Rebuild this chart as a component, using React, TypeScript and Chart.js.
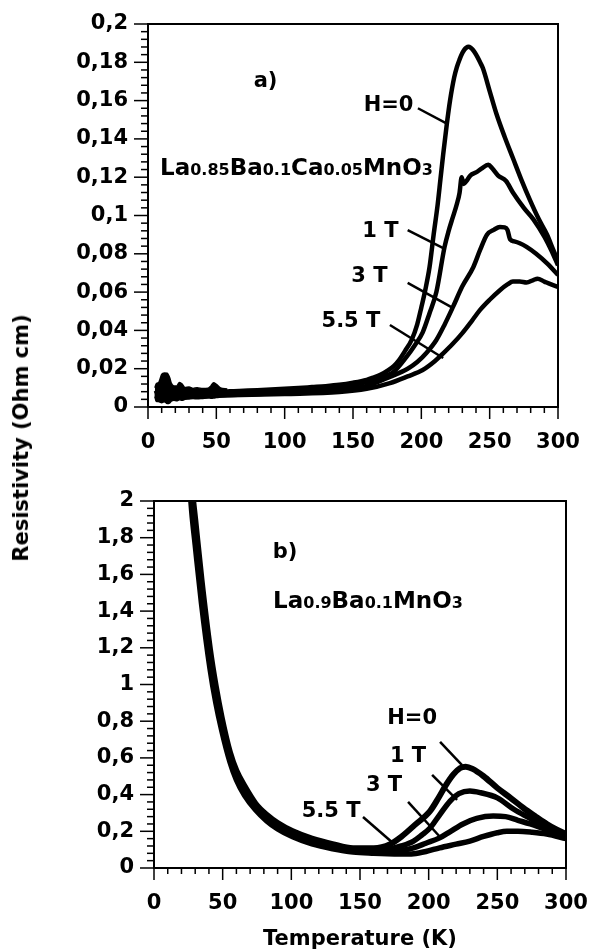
import React, { useEffect, useRef } from 'react';
import { Chart, registerables } from 'chart.js';

Chart.register(...registerables);

const FONT = '"DejaVu Sans", "Liberation Sans", Arial, sans-serif';

// ---------- Panel a) La0.85Ba0.1Ca0.05MnO3 ----------
const aH0T = [5, 10, 15, 20, 30, 40, 50, 60, 70, 80, 90, 100, 110, 120, 130, 140, 150, 160, 165, 170, 175, 180, 184, 188, 193, 197, 200, 203, 206, 209, 212, 214, 216, 218.7, 221, 224, 226, 228, 230, 231.5, 233, 234.5, 236, 237.5, 239, 241, 243, 245, 250, 255, 261, 267, 273, 279.5, 286, 292, 296, 300];
const aH0V = [0.007, 0.009, 0.008, 0.0075, 0.0072, 0.0072, 0.0076, 0.0082, 0.0085, 0.0088, 0.0091, 0.0095, 0.0099, 0.0104, 0.0109, 0.0116, 0.0127, 0.0142, 0.0154, 0.0168, 0.0188, 0.0215, 0.0248, 0.0292, 0.0352, 0.0432, 0.0520, 0.0615, 0.0730, 0.0900, 0.1060, 0.1190, 0.1320, 0.1480, 0.1600, 0.1720, 0.1775, 0.1815, 0.1848, 0.1866, 0.1877, 0.1881, 0.1877, 0.1867, 0.1852, 0.1828, 0.1800, 0.1770, 0.1650, 0.1530, 0.1410, 0.1300, 0.1190, 0.1080, 0.0980, 0.0900, 0.0830, 0.0760];

const a1T = [5, 20, 35, 50, 60, 80, 100, 120, 140, 150, 160, 170, 180, 189, 195, 201, 206, 211, 217, 220, 223, 226, 228, 229.5, 231, 233, 236, 240, 244, 249, 252, 256, 262, 267, 275, 282, 290, 295, 300];
const a1V = [0.0068, 0.007, 0.0068, 0.0068, 0.0072, 0.0078, 0.0083, 0.0092, 0.0105, 0.0115, 0.0130, 0.0150, 0.0185, 0.0260, 0.0320, 0.0390, 0.0490, 0.0600, 0.0836, 0.0920, 0.0990, 0.1060, 0.1120, 0.1200, 0.1165, 0.1180, 0.1210, 0.1225, 0.1245, 0.1265, 0.1245, 0.1210, 0.1180, 0.1120, 0.1040, 0.0980, 0.0890, 0.0820, 0.0740];

const a3T = [5, 20, 35, 50, 100, 140, 160, 177, 190, 197, 204, 211, 217, 223, 230, 238, 243, 248, 253, 257.5, 261, 263, 265, 268, 272, 277, 284, 292, 300];
const a3V = [0.0065, 0.0066, 0.0063, 0.0062, 0.0075, 0.0090, 0.0110, 0.0157, 0.0200, 0.0235, 0.0285, 0.0350, 0.0430, 0.0520, 0.0630, 0.0730, 0.0820, 0.0900, 0.0925, 0.0940, 0.0938, 0.0925, 0.0875, 0.0865, 0.0855, 0.0836, 0.0800, 0.0750, 0.0690];

const a55T = [5, 20, 35, 50, 100, 140, 160, 177, 190, 201, 210, 216, 223, 230, 237, 243, 250, 257.5, 263, 267, 272, 277, 282, 285, 290, 295, 300];
const a55V = [0.006, 0.006, 0.0058, 0.006, 0.0068, 0.0078, 0.0095, 0.0125, 0.0160, 0.0193, 0.0240, 0.0280, 0.0330, 0.0386, 0.0450, 0.0507, 0.0560, 0.0610, 0.0640, 0.0655, 0.0655, 0.0650, 0.0663, 0.0670, 0.0655, 0.0640, 0.0627];

// noisy low-temperature band (upper / lower edge of the scatter)
const aNoiseT = [5, 6, 8, 10, 12, 14, 16, 17, 19, 21, 23, 25, 27, 30, 33, 36, 40, 44, 46, 48, 50, 53, 58];
const aNoiseHi = [0.010, 0.012, 0.013, 0.017, 0.0178, 0.0176, 0.015, 0.0125, 0.011, 0.011, 0.0128, 0.012, 0.0102, 0.0105, 0.0097, 0.0101, 0.0096, 0.0098, 0.011, 0.0127, 0.0118, 0.0100, 0.0094];
const aNoiseLo = [0.0055, 0.003, 0.0028, 0.0022, 0.0028, 0.0018, 0.0022, 0.003, 0.0035, 0.0032, 0.0038, 0.0035, 0.004, 0.0042, 0.0044, 0.0043, 0.0045, 0.0047, 0.0046, 0.0047, 0.0049, 0.0052, 0.0056];

// ---------- Panel b) La0.9Ba0.1MnO3 ----------
const bH0T = [24, 27.5, 30, 34.6, 40.8, 45, 49.3, 55.3, 60, 66, 74, 82, 90, 101, 115, 130, 145, 160, 172, 180, 190, 201, 207, 213, 218, 223, 227, 232, 240, 250, 260, 269, 278, 286, 293, 300];
const bH0V = [2.45, 2.08, 1.90, 1.57, 1.19, 0.99, 0.82, 0.63, 0.53, 0.445, 0.35, 0.29, 0.245, 0.20, 0.16, 0.13, 0.108, 0.108, 0.13, 0.17, 0.235, 0.31, 0.38, 0.457, 0.51, 0.545, 0.552, 0.54, 0.50, 0.436, 0.38, 0.327, 0.28, 0.24, 0.21, 0.185];

const b1T = [24, 27.5, 30, 34.6, 40.8, 45, 49.3, 55.3, 60, 66, 74, 82, 90, 101, 115, 130, 145, 160, 170, 180, 189, 195, 201, 208, 215.6, 222, 230, 238, 250, 262, 274, 287, 300];
const b1V = [2.40, 2.04, 1.86, 1.53, 1.16, 0.965, 0.80, 0.615, 0.515, 0.43, 0.34, 0.28, 0.235, 0.19, 0.15, 0.122, 0.10, 0.095, 0.10, 0.12, 0.147, 0.18, 0.218, 0.29, 0.365, 0.405, 0.42, 0.41, 0.382, 0.32, 0.27, 0.215, 0.18];

const b3T = [24, 27.5, 30, 34.6, 40.8, 45, 49.3, 55.3, 60, 66, 74, 82, 90, 101, 115, 130, 145, 160, 170, 180, 189, 198, 208, 216, 225, 235, 247, 256, 265, 274, 287, 300];
const b3V = [2.36, 2.0, 1.82, 1.49, 1.13, 0.94, 0.78, 0.60, 0.50, 0.415, 0.33, 0.27, 0.225, 0.18, 0.14, 0.113, 0.094, 0.088, 0.088, 0.095, 0.11, 0.135, 0.164, 0.20, 0.24, 0.27, 0.283, 0.28, 0.26, 0.24, 0.205, 0.175];

const b55T = [24, 27.5, 30, 34.6, 40.8, 45, 49.3, 55.3, 60, 66, 74, 82, 90, 101, 115, 130, 145, 160, 170, 180, 189, 198, 208, 220, 230, 240, 250, 257, 265, 275, 286, 300];
const b55V = [2.30, 1.94, 1.76, 1.44, 1.085, 0.90, 0.75, 0.578, 0.48, 0.395, 0.316, 0.257, 0.213, 0.17, 0.131, 0.105, 0.087, 0.08, 0.077, 0.076, 0.078, 0.09, 0.11, 0.13, 0.147, 0.172, 0.192, 0.20, 0.20, 0.195, 0.185, 0.16];

// ---------- Annotations ----------
const fieldLabels = ['H=0', '1 T', '3 T', '5.5 T'];
const aLabelT = [176, 170, 162, 148.5];
const aLabelV = [0.1574, 0.0914, 0.0679, 0.0444];
const aLeadFromT = [197.5, 190, 190, 177];
const aLeadFromV = [0.156, 0.0924, 0.0648, 0.0428];
const aLeadToT = [218.7, 216, 222, 216];
const aLeadToV = [0.148, 0.083, 0.0522, 0.0256];

const bLabelT = [188, 185, 167.5, 129];
const bLabelV = [0.817, 0.605, 0.452, 0.305];
const bLeadFromT = [208.3, 202.5, 185, 152.2];
const bLeadFromV = [0.687, 0.507, 0.36, 0.278];
const bLeadToT = [224.3, 220.7, 208.3, 174];
const bLeadToV = [0.561, 0.371, 0.169, 0.136];

// formula pieces: [text, isSubscript]
const formulaA: [string, boolean][] = [['La', false], ['0.85', true], ['Ba', false], ['0.1', true], ['Ca', false], ['0.05', true], ['MnO', false], ['3', true]];
const formulaB: [string, boolean][] = [['La', false], ['0.9', true], ['Ba', false], ['0.1', true], ['MnO', false], ['3', true]];

const fmt = (v: number) => String(Math.round(v * 1000) / 1000).replace('.', ',');
const pts = (T: number[], V: number[]) => T.map((t, i) => ({ x: t, y: V[i] }));

const decor = {
  id: 'decor',
  afterDatasetsDraw(chart: any, _args: any, o: any) {
    const { ctx, chartArea: a, scales } = chart;
    const x = scales.x;
    const y = scales.y;
    ctx.save();
    ctx.strokeStyle = '#000';
    ctx.fillStyle = '#000';
    ctx.lineCap = 'butt';
    // frame
    ctx.lineWidth = 2;
    ctx.strokeRect(a.left, a.top, a.right - a.left, a.bottom - a.top);
    // x ticks
    ctx.lineWidth = 1.5;
    const nx = Math.round((x.max - x.min) / o.xMinor);
    for (let i = 0; i <= nx; i++) {
      const px = x.getPixelForValue(x.min + i * o.xMinor);
      const major = i % o.xEvery === 0;
      ctx.beginPath();
      ctx.moveTo(px, a.bottom);
      ctx.lineTo(px, a.bottom + (major ? 12 : 6));
      ctx.stroke();
    }
    const ny = Math.round((y.max - y.min) / o.yMinor);
    for (let i = 0; i <= ny; i++) {
      const py = y.getPixelForValue(y.min + i * o.yMinor);
      const major = i % o.yEvery === 0;
      ctx.beginPath();
      ctx.moveTo(a.left, py);
      ctx.lineTo(a.left - (major ? 14 : 7), py);
      ctx.stroke();
    }
    // panel letter
    ctx.font = `bold 21px ${FONT}`;
    ctx.textAlign = 'center';
    ctx.textBaseline = 'middle';
    ctx.fillText(o.letter, x.getPixelForValue(o.letterT), y.getPixelForValue(o.letterV));
    // formula
    let fx = x.getPixelForValue(o.formulaT);
    const fy = y.getPixelForValue(o.formulaV);
    ctx.textAlign = 'left';
    ctx.textBaseline = 'alphabetic';
    for (const [t, sub] of o.formula as [string, boolean][]) {
      ctx.font = sub ? `bold 16px ${FONT}` : `bold 23px ${FONT}`;
      ctx.fillText(t, fx, fy);
      fx += ctx.measureText(t).width;
    }
    // field labels + leaders
    ctx.font = `bold 21px ${FONT}`;
    ctx.textAlign = 'center';
    ctx.textBaseline = 'middle';
    ctx.lineWidth = 2.5;
    o.labels.forEach((t: string, i: number) => {
      ctx.fillText(t, x.getPixelForValue(o.labelT[i]), y.getPixelForValue(o.labelV[i]));
      ctx.beginPath();
      ctx.moveTo(x.getPixelForValue(o.fromT[i]), y.getPixelForValue(o.fromV[i]));
      ctx.lineTo(x.getPixelForValue(o.toT[i]), y.getPixelForValue(o.toV[i]));
      ctx.stroke();
    });
    ctx.restore();
  },
};

function buildConfig(p: any) {
  const tickFont = { family: FONT, size: 21, weight: 'bold' as const };
  const datasets = p.series.map((s: any) => ({
    data: pts(s.T, s.V),
    borderColor: '#000',
    backgroundColor: '#000',
    borderWidth: s.w,
    pointRadius: 0,
    fill: s.fillNext ? '+1' : false,
    tension: 0.4,
    cubicInterpolationMode: 'monotone',
    borderJoinStyle: 'round',
    clip: 0,
  }));
  return {
    type: 'line' as const,
    data: { datasets },
    options: {
      animation: false,
      responsive: false,
      devicePixelRatio: 1,
      events: [],
      layout: { padding: p.padding },
      plugins: {
        legend: { display: false },
        tooltip: { enabled: false },
        title: { display: false },
        filler: { propagate: false },
        decor: p.decor,
      },
      scales: {
        x: {
          type: 'linear',
          min: 0,
          max: 300,
          ticks: { stepSize: 50, font: tickFont, color: '#000', padding: 23, maxRotation: 0, autoSkip: false },
          grid: { display: false, drawTicks: false },
          border: { display: false },
          title: p.xTitle
            ? { display: true, text: p.xTitle, font: { family: FONT, size: 21, weight: 'bold' }, color: '#000', padding: { top: 0, bottom: 0 } }
            : { display: false },
          afterFit: (s: any) => {
            s.height = p.xHeight;
            s.paddingLeft = 0;
            s.paddingRight = 0;
          },
        },
        y: {
          type: 'linear',
          min: 0,
          max: p.yMax,
          ticks: { stepSize: p.yStep, font: tickFont, color: '#000', padding: 20, autoSkip: false, callback: (v: any) => fmt(Number(v)) },
          grid: { display: false, drawTicks: false },
          border: { display: false },
          afterFit: (s: any) => {
            s.width = p.yWidth;
            s.paddingTop = 0;
            s.paddingBottom = 0;
          },
        },
      },
    },
    plugins: [decor],
  };
}

const panelA = {
  series: [
    { T: aH0T, V: aH0V, w: 4.5 },
    { T: a1T, V: a1V, w: 4.5 },
    { T: a3T, V: a3V, w: 4.5 },
    { T: a55T, V: a55V, w: 4.5 },
    { T: aNoiseT, V: aNoiseHi, w: 1.5, fillNext: true },
    { T: aNoiseT, V: aNoiseLo, w: 1.5 },
  ],
  padding: { left: 0, top: 24, right: 31, bottom: 0 },
  yMax: 0.2,
  yStep: 0.02,
  yWidth: 148,
  xHeight: 63,
  xTitle: null,
  decor: {
    xMinor: 10, xEvery: 5, yMinor: 0.004, yEvery: 5,
    letter: 'a)', letterT: 86, letterV: 0.170,
    formula: formulaA, formulaT: 8.8, formulaV: 0.1211,
    labels: fieldLabels, labelT: aLabelT, labelV: aLabelV,
    fromT: aLeadFromT, fromV: aLeadFromV, toT: aLeadToT, toV: aLeadToV,
  },
};

const panelB = {
  series: [
    { T: bH0T, V: bH0V, w: 6 },
    { T: b1T, V: b1V, w: 5.5 },
    { T: b3T, V: b3V, w: 5.5 },
    { T: b55T, V: b55V, w: 5.5 },
  ],
  padding: { left: 0, top: 31, right: 23, bottom: 0 },
  yMax: 2,
  yStep: 0.2,
  yWidth: 154,
  xHeight: 84,
  xTitle: 'Temperature (K)',
  decor: {
    xMinor: 10, xEvery: 5, yMinor: 0.04, yEvery: 5,
    letter: 'b)', letterT: 95.4, letterV: 1.717,
    formula: formulaB, formulaT: 86.7, formulaV: 1.417,
    labels: fieldLabels, labelT: bLabelT, labelV: bLabelV,
    fromT: bLeadFromT, fromV: bLeadFromV, toT: bLeadToT, toV: bLeadToV,
  },
};

export default function App() {
  const refA = useRef<HTMLCanvasElement>(null);
  const refB = useRef<HTMLCanvasElement>(null);

  useEffect(() => {
    document.body.style.margin = '0';
    document.body.style.background = '#fff';
    const ca = new Chart(refA.current as HTMLCanvasElement, buildConfig(panelA) as any);
    const cb = new Chart(refB.current as HTMLCanvasElement, buildConfig(panelB) as any);
    return () => {
      ca.destroy();
      cb.destroy();
    };
  }, []);

  return (
    <div style={{ position: 'relative', width: 589, height: 952, background: '#fff', overflow: 'hidden' }}>
      <canvas ref={refA} width={589} height={470} style={{ position: 'absolute', left: 0, top: 0, width: 589, height: 470 }} />
      <canvas ref={refB} width={589} height={482} style={{ position: 'absolute', left: 0, top: 470, width: 589, height: 482 }} />
      <div
        style={{
          position: 'absolute',
          left: 21,
          top: 438,
          transform: 'translate(-50%, -50%) rotate(-90deg)',
          whiteSpace: 'nowrap',
          font: `bold 21px ${FONT}`,
          color: '#000',
        }}
      >
        Resistivity (Ohm cm)
      </div>
    </div>
  );
}
